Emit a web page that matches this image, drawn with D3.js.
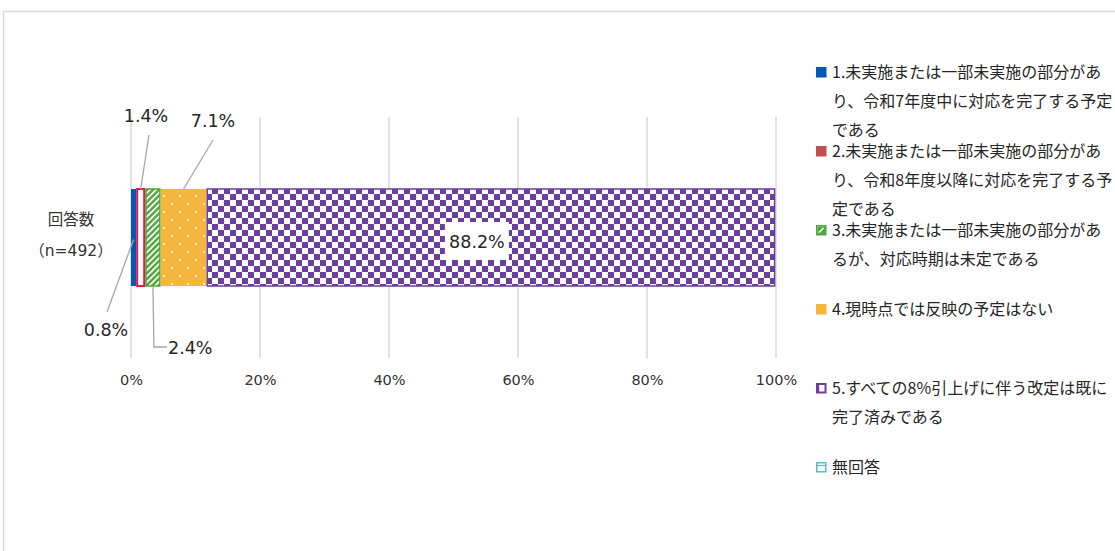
<!DOCTYPE html>
<html>
<head>
<meta charset="utf-8">
<script src="https://cdn.jsdelivr.net/npm/d3@7"></script>
<style>
  html, body { margin: 0; padding: 0; background: #fff; }
  svg { display: block; }
  text { font-family: "DejaVu Sans", "Noto Sans CJK JP", sans-serif; }
  .jp { font-family: "Noto Sans CJK JP", sans-serif; }
</style>
</head>
<body>
<svg id="chart" width="1115" height="551"></svg>
<script>
// Survey response shares (%), n = 492
const category = ["回答数", "（n=492）"];
const seriesKeys = ["s1", "s2", "s3", "s4", "s5", "none"];
const seriesValues = [0.8, 1.4, 2.4, 7.1, 88.2, 0.0];
const valueLabels = ["0.8%", "1.4%", "2.4%", "7.1%", "88.2%", ""];
const legendLines = [
  ["1.未実施または一部未実施の部分があ", "り、令和7年度中に対応を完了する予定", "である"],
  ["2.未実施または一部未実施の部分があ", "り、令和8年度以降に対応を完了する予", "定である"],
  ["3.未実施または一部未実施の部分があ", "るが、対応時期は未定である"],
  ["4.現時点では反映の予定はない"],
  ["5.すべての8%引上げに伴う改定は既に", "完了済みである"],
  ["無回答"]
];
const xTicks = [0, 20, 40, 60, 80, 100];

const svg = d3.select("#chart");

// outer frame
svg.append("rect")
  .attr("x", 3.5).attr("y", 11.5).attr("width", 1200).attr("height", 700)
  .attr("fill", "none").attr("stroke", "#d9d9d9").attr("stroke-width", 1.5);

// fill patterns
const defs = svg.append("defs");
const stripes = defs.append("pattern").attr("id", "pStripe")
  .attr("patternUnits", "userSpaceOnUse").attr("width", 4.2).attr("height", 4.2)
  .attr("patternTransform", "rotate(45)");
stripes.append("rect").attr("width", 4.2).attr("height", 4.2).attr("fill", "#4ea73a");
stripes.append("rect").attr("x", 0).attr("width", 1.8).attr("height", 4.2).attr("fill", "#fff");

const dots = defs.append("pattern").attr("id", "pDots")
  .attr("patternUnits", "userSpaceOnUse").attr("width", 16).attr("height", 16);
dots.append("rect").attr("width", 16).attr("height", 16).attr("fill", "#f4b63f");
dots.append("circle").attr("cx", 4).attr("cy", 4).attr("r", 1.1).attr("fill", "#fff");
dots.append("circle").attr("cx", 12).attr("cy", 12).attr("r", 1.1).attr("fill", "#fff");

const checker = defs.append("pattern").attr("id", "pCheck")
  .attr("patternUnits", "userSpaceOnUse").attr("width", 12).attr("height", 12)
  .attr("x", 2).attr("y", 2);
checker.append("rect").attr("width", 12).attr("height", 12).attr("fill", "#fff");
checker.append("rect").attr("width", 6).attr("height", 6).attr("fill", "#6b3fa0");
checker.append("rect").attr("x", 6).attr("y", 6).attr("width", 6).attr("height", 6).attr("fill", "#6b3fa0");

const styles = {
  s1:   { fill: "#0058b8", stroke: "none", sw: 0 },
  s2:   { fill: "#ffffff", stroke: "#e5174a", sw: 2 },
  s3:   { fill: "url(#pStripe)", stroke: "#4ea73a", sw: 1.5 },
  s4:   { fill: "url(#pDots)", stroke: "none", sw: 0 },
  s5:   { fill: "url(#pCheck)", stroke: "#6b3fa0", sw: 1.5 },
  none: { fill: "#ffffff", stroke: "#4bc4c4", sw: 1.5 }
};

// scales
const x = d3.scaleLinear().domain([0, 100]).range([131, 776]);
const y = d3.scaleBand().domain([category.join("")]).range([117, 358])
  .paddingInner(0).paddingOuter(0.742);
const barTop = y(category.join(""));
const barH = y.bandwidth();

// gridlines
svg.append("g").selectAll("line").data(xTicks).join("line")
  .attr("x1", d => x(d)).attr("x2", d => x(d))
  .attr("y1", 117).attr("y2", 358)
  .attr("stroke", "#d9d9d9").attr("stroke-width", 1.5);

// x axis labels
const xAxis = d3.axisBottom(x).tickValues(xTicks).tickFormat(d => d + "%")
  .tickSize(0).tickPadding(17);
const gx = svg.append("g").attr("transform", "translate(0,358)").call(xAxis);
gx.select(".domain").remove();
gx.selectAll("text").attr("font-size", 14.5).attr("fill", "#333")
  .attr("font-family", "DejaVu Sans, sans-serif");

// category label (two lines)
const catG = svg.append("g");
catG.selectAll("text").data(category).join("text")
  .attr("x", 71).attr("y", (d, i) => 225 + i * 31)
  .attr("text-anchor", "middle").attr("font-size", 15.5).attr("fill", "#333")
  .text(d => d);

// stacked segments
let acc = 0;
const segs = seriesValues.map((v, i) => {
  const s = { key: seriesKeys[i], v, x0: acc, x1: acc + v, label: valueLabels[i] };
  acc += v;
  return s;
});

svg.append("g").selectAll("rect").data(segs.filter(d => d.v > 0)).join("rect")
  .attr("x", d => x(d.x0) + styles[d.key].sw / 2)
  .attr("y", barTop + styles.s1.sw)
  .attr("width", d => Math.max(0, x(d.x1) - x(d.x0) - styles[d.key].sw))
  .attr("height", barH)
  .attr("fill", d => styles[d.key].fill)
  .attr("stroke", d => styles[d.key].stroke)
  .attr("stroke-width", d => styles[d.key].sw);

// leader lines and outside labels
const mid = d => x((d.x0 + d.x1) / 2);
const lab = svg.append("g");
const lineC = "#a6a6a6";
const txtC = "#262626";
const fs = 17.5;

// 0.8%
lab.append("line").attr("x1", mid(segs[0])).attr("y1", barTop + barH / 2 + 2)
  .attr("x2", 107).attr("y2", 312).attr("stroke", lineC).attr("stroke-width", 1.3);
lab.append("text").attr("x", 106).attr("y", 336).attr("text-anchor", "middle")
  .attr("font-size", fs).attr("fill", txtC).text(segs[0].label);

// 1.4%
lab.append("line").attr("x1", mid(segs[1])).attr("y1", barTop)
  .attr("x2", 149).attr("y2", 135).attr("stroke", lineC).attr("stroke-width", 1.3);
lab.append("text").attr("x", 146).attr("y", 122).attr("text-anchor", "middle")
  .attr("font-size", fs).attr("fill", txtC).text(segs[1].label);

// 2.4%
lab.append("polyline")
  .attr("points", [[mid(segs[2]), barTop + barH], [mid(segs[2]) + 1, 347], [167, 347]].join(" "))
  .attr("fill", "none").attr("stroke", lineC).attr("stroke-width", 1.3);
lab.append("text").attr("x", 168).attr("y", 353.5)
  .attr("font-size", fs).attr("fill", txtC).text(segs[2].label);

// 7.1%
lab.append("line").attr("x1", mid(segs[3])).attr("y1", barTop)
  .attr("x2", 213).attr("y2", 140).attr("stroke", lineC).attr("stroke-width", 1.3);
lab.append("text").attr("x", 213).attr("y", 127).attr("text-anchor", "middle")
  .attr("font-size", fs).attr("fill", txtC).text(segs[3].label);

// 88.2% inside label with white box
const cx5 = mid(segs[4]) - 14;
lab.append("rect").attr("x", cx5 - 32).attr("y", 222).attr("width", 64).attr("height", 38)
  .attr("fill", "#fff");
lab.append("text").attr("x", cx5).attr("y", 247.5).attr("text-anchor", "middle")
  .attr("font-size", fs).attr("fill", txtC).text(segs[4].label);

// legend
const leg = svg.append("g").attr("transform", "translate(816,0)");
const items = leg.selectAll("g").data(seriesKeys).join("g")
  .attr("transform", (d, i) => `translate(0,${72 + i * 79})`);

items.each(function(k, i) {
  const g = d3.select(this);
  if (k === "s1") {
    g.append("rect").attr("x", 0).attr("y", -5).attr("width", 10.5).attr("height", 10.5).attr("fill", "#0058b8");
  } else if (k === "s2") {
    g.append("rect").attr("x", 0).attr("y", -5).attr("width", 10.5).attr("height", 10.5).attr("fill", "#c0504d");
  } else if (k === "s3") {
    g.append("rect").attr("x", 0.75).attr("y", -4.25).attr("width", 9).attr("height", 9)
      .attr("fill", "#fff").attr("stroke", "#4ea73a").attr("stroke-width", 1.5);
    g.append("rect").attr("x", 1.5).attr("y", -3.5).attr("width", 7.5).attr("height", 7.5).attr("fill", "#4ea73a");
    g.append("line").attr("x1", 3).attr("y1", 2.5).attr("x2", 7.5).attr("y2", -2)
      .attr("stroke", "#fff").attr("stroke-width", 1.6);
  } else if (k === "s4") {
    g.append("rect").attr("x", 0).attr("y", -5).attr("width", 10.5).attr("height", 10.5).attr("fill", "#f4b63f");
  } else if (k === "s5") {
    g.append("rect").attr("x", 0).attr("y", -5).attr("width", 10.5).attr("height", 10.5).attr("fill", "#6b3fa0");
    g.append("rect").attr("x", 3.2).attr("y", -3).attr("width", 5.3).attr("height", 6.5).attr("fill", "#fff");
  } else {
    g.append("rect").attr("x", 0.75).attr("y", -4.25).attr("width", 9).attr("height", 9)
      .attr("fill", "#fff").attr("stroke", "#4bc4c4").attr("stroke-width", 1.5);
    g.append("line").attr("x1", 0).attr("y1", -1.5).attr("x2", 10.5).attr("y2", -1.5)
      .attr("stroke", "#4bc4c4").attr("stroke-width", 1.2);
  }
  g.selectAll("text").data(legendLines[i]).join("text")
    .attr("class", "jp")
    .attr("x", 16).attr("y", (d, j) => 6 + j * 29)
    .attr("font-size", 16).attr("fill", "#262626")
    .text(d => d);
});
</script>
</body>
</html>
